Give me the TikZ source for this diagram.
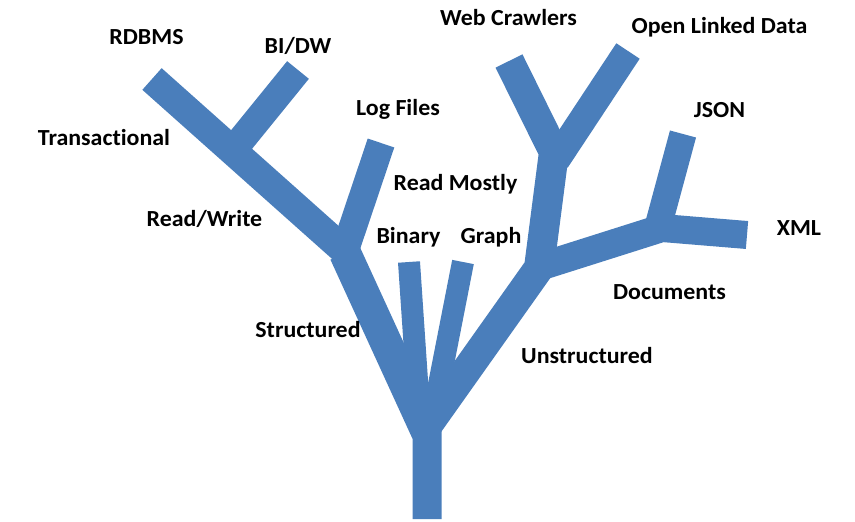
\documentclass[tikz,border=0pt]{standalone}
\usepackage{fontspec}
\setmainfont{Carlito}[FakeStretch=1.04,Ligatures=NoCommon]
\definecolor{treeblue}{RGB}{74,126,187}
\begin{document}
\begin{tikzpicture}[x=1pt,y=-1pt,
  limb/.style={draw=treeblue,line width=29pt,line join=miter,line cap=butt},
  twig/.style={draw=treeblue,line width=22pt,line cap=butt},
  lbl/.style={font=\fontsize{23}{26}\selectfont\bfseries,anchor=base,inner sep=0pt}]
\useasboundingbox (0,0) rectangle (855,522);
% trunk, structured side
\draw[limb] (152,79) -- (345,251) -- (427,432) -- (427,519);
\draw[draw=treeblue,line width=32pt] (345,253) -- (427,432);
\draw[limb,line width=28pt] (298,70) -- (229,155);
\draw[limb,line width=28pt] (381,143) -- (343,256);
\draw[twig] (409,262) -- (419,410);
\draw[twig] (463,262) -- (435,405);
% unstructured side
\draw[limb,line width=30pt] (422,433) -- (539,268) -- (554,152) -- (509,61);
\draw[limb,line width=28pt] (628,51) -- (556,160);
\draw[limb,line width=28pt] (539,267) -- (662,228) -- (747,235);
\draw[limb,line width=27pt] (683,134) -- (656,234);
% labels
\node[lbl] (rdbms) at (146.5,44) {RDBMS};
\node[lbl] (bidw) at (298,53) {BI/DW};
\node[lbl] (trans) at (104,145) {Transactional};
\node[lbl] (logf) at (398,115) {Log Files};
\node[lbl] (readm) at (455.5,190) {Read Mostly};
\node[lbl] (readw) at (204.5,226) {Read/Write};
\node[lbl] (bin) at (408.5,243) {Binary};
\node[lbl] (graph) at (491,243) {Graph};
\node[lbl] (struct) at (308,337) {Structured};
\node[lbl] (webc) at (508.5,25) {Web Crawlers};
\node[lbl] (old) at (719.5,33) {Open Linked Data};
\node[lbl] (json) at (719.5,117) {JSON};
\node[lbl] (xml) at (799,235) {XML};
\node[lbl] (docs) at (669.5,299) {Documents};
\node[lbl] (unstruct) at (587,363) {Unstructured};
\end{tikzpicture}
\end{document}
